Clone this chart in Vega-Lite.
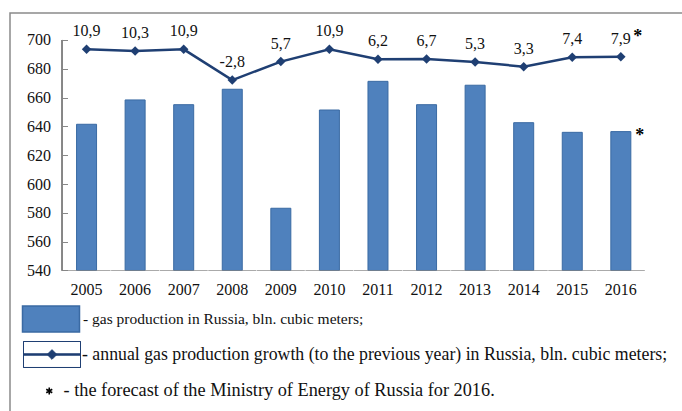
{
  "$schema": "https://vega.github.io/schema/vega-lite/v6.json",
  "autosize": {"type": "none"},
  "width": 680,
  "height": 410,
  "padding": {"left": 10, "top": 13, "right": 0, "bottom": 0},
  "background": "white",
  "data": {
    "values": [
      {"year": "2005", "prod": 641.5, "pos": 693.5, "growth": 10.9},
      {"year": "2006", "prod": 658.4, "pos": 692.4, "growth": 10.3},
      {"year": "2007", "prod": 655.1, "pos": 693.5, "growth": 10.9},
      {"year": "2008", "prod": 665.8, "pos": 672.2, "growth": -2.8},
      {"year": "2009", "prod": 583.2, "pos": 685.0, "growth": 5.7},
      {"year": "2010", "prod": 651.4, "pos": 693.5, "growth": 10.9},
      {"year": "2011", "prod": 671.3, "pos": 686.6, "growth": 6.2},
      {"year": "2012", "prod": 655.1, "pos": 686.8, "growth": 6.7},
      {"year": "2013", "prod": 668.6, "pos": 684.7, "growth": 5.3},
      {"year": "2014", "prod": 642.6, "pos": 681.5, "growth": 3.3},
      {"year": "2015", "prod": 635.9, "pos": 688.0, "growth": 7.4},
      {"year": "2016", "prod": 636.4, "pos": 688.4, "growth": 7.9, "note": "*"}
    ]
  },
  "encoding": {
    "x": {
      "field": "year",
      "type": "nominal",
      "scale": {"type": "band", "paddingInner": 0, "paddingOuter": 1.119, "align": 0.538},
      "axis": {"orient": "bottom", "offset": -152.5, "domain": false, "ticks": false, "labelAngle": 0, "labelPadding": 11, "title": null}
    }
  },
  "layer": [
    {
      "mark": {"type": "bar", "width": 20, "strokeWidth": 1, "stroke": "#3a6aa3"},
      "encoding": {
        "y": {
          "field": "prod",
          "type": "quantitative",
          "scale": {"domain": [434.13, 718.74], "nice": false, "zero": false},
          "axis": {"values": [540, 560, 580, 600, 620, 640, 660, 680, 700], "offset": -57.5, "domain": false, "grid": false, "tickSize": 5, "tickColor": "#888", "labelPadding": 12, "title": null}
        },
        "y2": {"datum": 540},
        "fill": {
          "datum": "- gas production in Russia, bln. cubic meters;",
          "scale": {"range": ["#4f81bd"]},
          "legend": {
            "orient": "none", "legendX": 11.5, "legendY": 276.5, "padding": 0, "title": null,
            "symbolType": "M-1,-0.456H1V0.456H-1Z", "symbolSize": 3249, "labelOffset": 2.5, "labelFontSize": 15.5,
            "encode": {"symbols": {"update": {"stroke": {"value": "#2f5d94"}, "strokeWidth": {"value": 1}}}}
          }
        }
      }
    },
    {
      "mark": {"type": "rule", "color": "#868686", "strokeWidth": 1},
      "encoding": {
        "x": {"datum": "2005", "bandPosition": 0},
        "y": {"datum": 540},
        "y2": {"datum": 700}
      }
    },
    {
      "mark": {"type": "tick", "orient": "horizontal", "size": 48, "thickness": 1, "color": "#868686"},
      "encoding": {
        "y": {"datum": 540}
      }
    },
    {
      "mark": {"type": "line", "strokeWidth": 2.5},
      "encoding": {
        "y": {"field": "pos", "type": "quantitative"},
        "stroke": {
          "datum": "- annual gas production growth (to the previous year) in Russia, bln. cubic meters;",
          "scale": {"range": ["#1f3f73"]},
          "legend": {
            "orient": "none", "legendX": 13, "legendY": 312.5, "padding": 0, "title": null,
            "symbolType": "M-1,-0.456H1V0.456H-1ZM-1,-0.456V0.456H1V-0.456ZM-1,-0.025H1V0.025H-1ZM0,-0.17L0.17,0L0,0.17L-0.17,0Z",
            "symbolSize": 3249, "labelOffset": 1, "labelFontSize": 17.8,
            "encode": {"symbols": {"update": {"fill": {"value": "#1f3f73"}, "strokeWidth": {"value": 1}}}}
          }
        }
      }
    },
    {
      "mark": {"type": "point", "shape": "diamond", "filled": true, "size": 90, "color": "#1f3f73", "opacity": 1},
      "encoding": {
        "y": {"field": "pos", "type": "quantitative"}
      }
    },
    {
      "mark": {"type": "text", "dy": -18, "fontSize": 16, "color": "#111"},
      "encoding": {
        "y": {"field": "pos", "type": "quantitative"},
        "text": {"field": "growth", "type": "quantitative", "format": ".1f"}
      }
    },
    {
      "transform": [{"filter": "datum.note"}],
      "layer": [
        {
          "mark": {"type": "text", "dx": 17, "dy": -20, "fontSize": 18, "fontWeight": "bold"},
          "encoding": {
            "y": {"field": "pos", "type": "quantitative"},
            "text": {"field": "note"},
            "color": {
              "datum": "- the forecast of the Ministry of Energy of Russia for 2016.",
              "scale": {"range": ["#000000"]},
              "legend": {
                "orient": "none", "legendX": 28.25, "legendY": 367, "padding": 0, "title": null,
                "symbolType": "M0,-0.35V0.35M-0.3,-0.175L0.3,0.175M-0.3,0.175L0.3,-0.175",
                "symbolSize": 400, "labelOffset": 3.25, "labelFontSize": 18.3,
                "encode": {"symbols": {"update": {"fill": {"value": "transparent"}, "stroke": {"value": "#000"}, "strokeWidth": {"value": 1.6}}}}
              }
            }
          }
        },
        {
          "mark": {"type": "text", "dx": 19, "dy": 4, "fontSize": 18, "fontWeight": "bold"},
          "encoding": {
            "y": {"field": "prod", "type": "quantitative"},
            "text": {"field": "note"},
            "color": {"datum": "- the forecast of the Ministry of Energy of Russia for 2016."}
          }
        }
      ]
    }
  ],
  "config": {
    "font": "Liberation Serif",
    "locale": {"number": {"decimal": ",", "thousands": " ", "grouping": [3], "currency": ["", ""], "minus": "-"}},
    "view": {"stroke": "#8a8a8a", "strokeWidth": 1.5},
    "axis": {"labelFont": "Liberation Serif", "labelFontSize": 16, "labelColor": "#111"},
    "legend": {"labelFont": "Liberation Serif", "labelFontSize": 16, "labelColor": "#111", "labelLimit": 0},
    "text": {"font": "Liberation Serif"}
  }
}
